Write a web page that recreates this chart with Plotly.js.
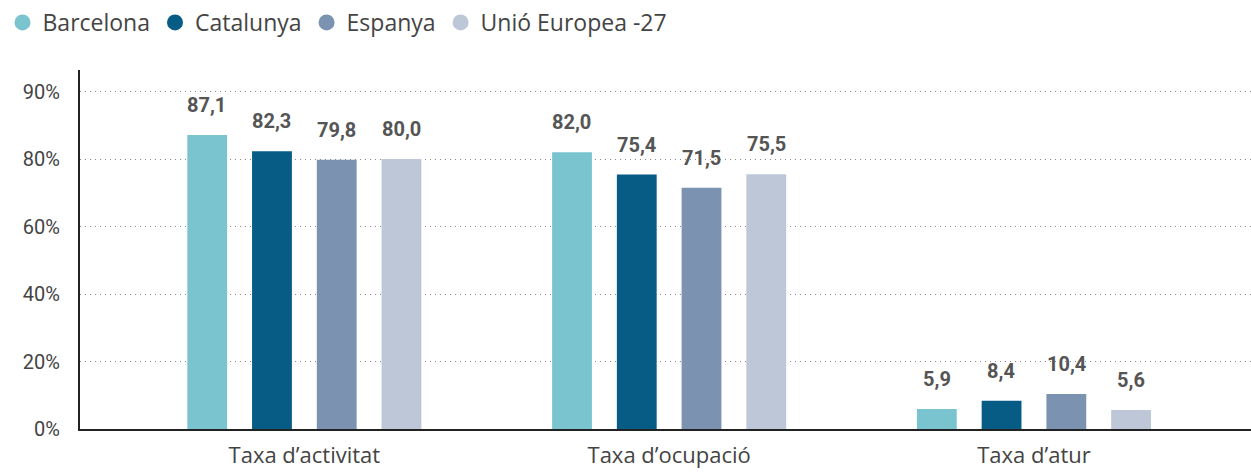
<!DOCTYPE html>
<html><head><meta charset="utf-8">
<script src="https://cdn.plot.ly/plotly-3.0.1.min.js"></script>
<style>html,body{margin:0;padding:0;background:#fff}#chart{width:1251px;height:472px}</style>
</head><body><div id="chart"></div>
<script>
const categories = ["Taxa d’activitat", "Taxa d’ocupació", "Taxa d’atur"];
const seriesNames = ["Barcelona", "Catalunya", "Espanya", "Unió Europea -27"];
const barcelona = [87.1, 82.0, 5.9];
const catalunya = [82.3, 75.4, 8.4];
const espanya = [79.8, 71.5, 10.4];
const ue27 = [80.0, 75.5, 5.6];
const tickVals = [0, 20, 40, 60, 80, 100];
const tickText = ["0%", "20%", "40%", "60%", "80%", "90%"];
const colors = ["#7ac4d0", "#065c85", "#7b93b1", "#bec7d8"];

const series = [barcelona, catalunya, espanya, ue27];
const fmt = v => v.toFixed(1).replace('.', ',');
const FONT = "Roboto, 'Open Sans', sans-serif";
const FONT2 = "'Open Sans', Roboto, sans-serif";

const traces = [];
series.forEach((vals, i) => {
  traces.push({
    type: 'bar', x: categories, y: vals, name: seriesNames[i],
    marker: {color: colors[i]}, showlegend: false, hoverinfo: 'skip'
  });
});
series.forEach((vals, i) => {
  traces.push({
    type: 'scatter', mode: 'markers', x: [null], y: [null], name: seriesNames[i],
    marker: {color: colors[i], size: 20, symbol: 'circle'}, showlegend: true
  });
});

const nS = series.length;
const step = 0.178;
const annotations = [];
series.forEach((vals, i) => {
  vals.forEach((v, j) => {
    annotations.push({
      x: j + (i - (nS - 1) / 2) * step, y: v, xref: 'x', yref: 'y',
      text: '<b>' + fmt(v) + '</b>', showarrow: false, yanchor: 'bottom', yshift: 16,
      font: {family: FONT, size: 20, color: '#555'}
    });
  });
});

const layout = {
  width: 1251, height: 472,
  margin: {l: 80, r: 0, t: 70, b: 43},
  paper_bgcolor: '#fff', plot_bgcolor: '#fff',
  barmode: 'group', bargap: 0.29, bargroupgap: 0.385,
  font: {family: FONT, color: '#444'},
  showlegend: true,
  legend: {orientation: 'h', x: 0.002, xref: 'container', xanchor: 'left', y: 0.998, yref: 'container', yanchor: 'top',
           font: {family: FONT2, size: 23, color: '#444'}, itemwidth: 30, tracegroupgap: 0, itemclick: false},
  xaxis: {
    type: 'category', range: [-0.615, 2.595], showgrid: false, zeroline: false,
    showline: true, linecolor: '#222', linewidth: 2, ticks: '',
    tickfont: {family: FONT2, size: 22, color: '#444'}, ticklabelstandoff: 6, fixedrange: true
  },
  yaxis: {
    range: [0, 106.4], tickvals: tickVals, ticktext: tickText,
    showgrid: true, gridcolor: '#888', griddash: '1px,4px', gridwidth: 1,
    zeroline: false, showline: true, linecolor: '#222', linewidth: 2, ticks: '',
    tickfont: {family: FONT, size: 20, color: '#444'}, ticklabelstandoff: 14, fixedrange: true
  },
  annotations: annotations
};
Plotly.newPlot('chart', traces, layout, {displayModeBar: false, staticPlot: true});
</script></body></html>
